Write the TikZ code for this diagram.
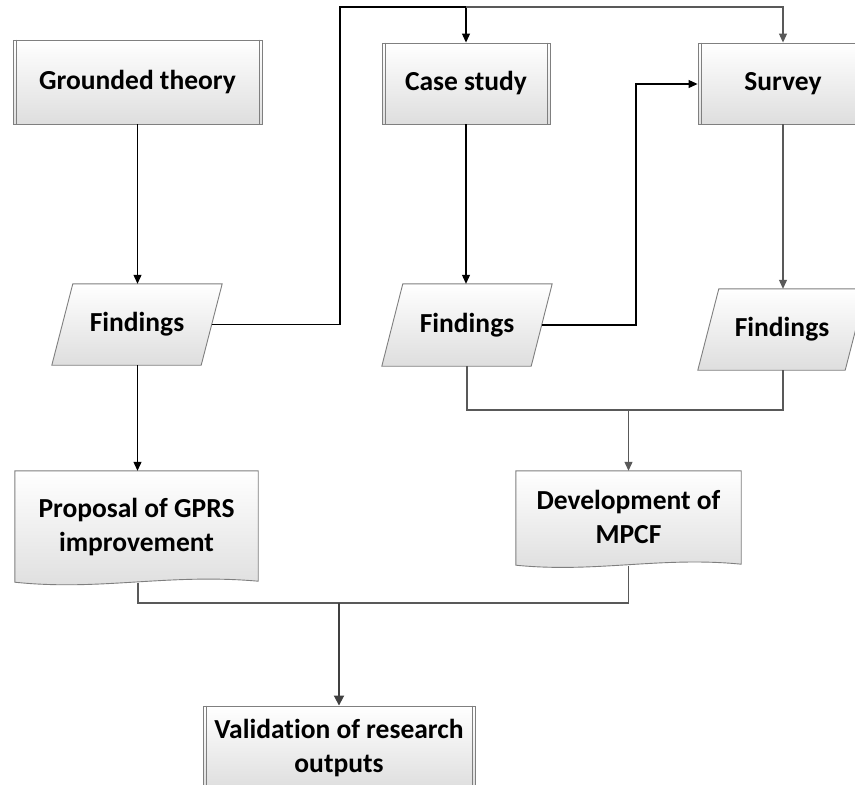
\documentclass[tikz,border=0pt]{standalone}
\usepackage{fontspec}
\setmainfont{Carlito}[Ligatures=NoCommon]
\usetikzlibrary{arrows.meta,calc}
\definecolor{bd}{HTML}{7F7F7F}
\definecolor{ln}{HTML}{595959}
\definecolor{lnd}{HTML}{404040}
\tikzset{
  shapefill/.style={top color=white, bottom color=black!13, draw=bd, line width=0.9pt},
  lbl/.style={font=\bfseries\fontsize{27.5}{34}\selectfont, align=center, inner sep=0pt},
  procbox/.style={shapefill, rectangle, lbl},
  ghost/.style={rectangle, lbl, draw=none},
  conb/.style={draw=black, line width=1.1pt},
  cong/.style={draw=ln, line width=1.1pt},
  conbig/.style={draw=lnd, line width=1.8pt},
  tipb/.style={-{Triangle[length=9pt,width=8pt]}},
  tipbig/.style={-{Triangle[length=10pt,width=10pt]}},
}
\begin{document}
\begin{tikzpicture}[x=1pt,y=-1pt]
\useasboundingbox (0,0) rectangle (855,785);
\clip (0,0) rectangle (855,785);

% ---- process boxes ----
\node[procbox, minimum width=249pt, minimum height=84pt] (gt) at (137.5,82) {Grounded theory};
\draw[bd, line width=0.9pt] ($(gt.north west)+(3.5,0)$) -- ($(gt.south west)+(3.5,0)$)
      ($(gt.north east)+(-3.5,0)$) -- ($(gt.south east)+(-3.5,0)$);

\node[procbox, minimum width=168pt, minimum height=81pt] (cs) at (466,83.5) {Case study};
\draw[bd, line width=0.9pt] ($(cs.north west)+(3.5,0)$) -- ($(cs.south west)+(3.5,0)$)
      ($(cs.north east)+(-3.5,0)$) -- ($(cs.south east)+(-3.5,0)$);

\node[procbox, minimum width=170pt, minimum height=81pt] (sv) at (783,83.5) {Survey};
\draw[bd, line width=0.9pt] ($(sv.north west)+(3.5,0)$) -- ($(sv.south west)+(3.5,0)$)
      ($(sv.north east)+(-3.5,0)$) -- ($(sv.south east)+(-3.5,0)$);

\node[procbox, minimum width=272pt, minimum height=84pt] (va) at (339,748) {Validation of research\\outputs};
\draw[bd, line width=0.9pt] ($(va.north west)+(3.5,0)$) -- ($(va.south west)+(3.5,0)$)
      ($(va.north east)+(-3.5,0)$) -- ($(va.south east)+(-3.5,0)$);

% ---- data (parallelogram) shapes ----
\node[ghost, minimum width=170pt, minimum height=81pt] (f1) at (137,324.5) {};
\node[ghost, minimum width=170pt, minimum height=82pt] (f2) at (467,325) {};
\node[ghost, minimum width=168pt, minimum height=81pt] (f3) at (782,329.5) {};
\foreach \n in {f1,f2,f3}{
  \path[shapefill] ($(\n.north west)+(21,0)$) -- (\n.north east)
        -- ($(\n.south east)+(-21,0)$) -- (\n.south west) -- cycle;
  \node[lbl] at (\n.center) {Findings};
}

% ---- document shapes ----
\node[ghost, minimum width=243pt, minimum height=108pt] (pr) at (136.5,525) {};
\path[shapefill] (pr.north west) -- (pr.north east) -- ($(pr.south east)+(0,2)$)
   .. controls ($(pr.south east)+(-90,-6)$) and ($(pr.south west)+(85,12)$) .. ($(pr.south west)+(0,3)$) -- cycle;
\node[lbl] at ($(pr.center)+(0,2)$) {Proposal of GPRS\\improvement};

\node[ghost, minimum width=225pt, minimum height=92pt] (dv) at (628.5,517) {};
\path[shapefill] (dv.north west) -- (dv.north east) -- ($(dv.south east)+(0,1)$)
   .. controls ($(dv.south east)+(-80,-7)$) and ($(dv.south west)+(80,10)$) .. ($(dv.south west)+(0,2)$) -- cycle;
\node[lbl] at (dv.center) {Development of\\MPCF};

% ---- connectors ----
\coordinate (top1) at (340,7);
\coordinate (topcs) at (cs.north |- top1);
\coordinate (m1) at (467,410);
\coordinate (m2) at (339,603);

\draw[conb, tipb] (gt.south) -- (f1.north -| gt.south);
\draw[conb, tipb] ($(f1.east)+(-10.5,0)$) -| (top1) -| (cs.north);
\draw[cong, tipb] (topcs) -| (sv.north);
\draw[conb, tipb] (cs.south) -- (cs.south |- f2.north);
\draw[conb, tipb] ($(f2.east)+(-10.5,0)$) -| (636,84) -- (sv.west |- 0,84);
\draw[cong, tipb] (sv.south) -- (sv.south |- f3.north);
\draw[conb, tipb] (f1.south -| gt.south) -- (pr.north -| gt.south);

\draw[cong] (f2.south) |- (m1) -| (f3.south -| sv.south);
\draw[cong, tipb] (dv.north |- m1) -- (dv.north);

\draw[cong] ($(pr.south)+(1.5,4)$) |- (m2) -| ($(dv.south)+(0,3)$);
\draw[conbig, tipbig] (m2) -- (va.north -| m2);
\end{tikzpicture}
\end{document}
